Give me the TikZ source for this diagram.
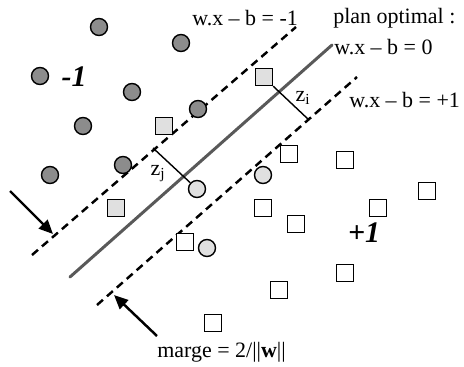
\documentclass[tikz,border=0pt]{standalone}
\usepackage{fontspec}
\setmainfont{Liberation Serif}
\usetikzlibrary{arrows.meta}
\tikzset{
  dark/.style={circle, draw, line width=0.8pt, fill=black!45, minimum size=0.34cm, inner sep=0pt},
  pale/.style={circle, draw, line width=0.8pt, fill=black!12, minimum size=0.34cm, inner sep=0pt},
  palebox/.style={rectangle, draw, line width=0.8pt, fill=black!12, minimum size=0.34cm, inner sep=0pt},
  whitebox/.style={rectangle, draw, line width=0.8pt, fill=white, minimum size=0.34cm, inner sep=0pt},
  margin/.style={line width=1.4pt, dash pattern=on 4.5pt off 3pt},
  pointer/.style={line width=1.4pt, -{Triangle[length=8pt,width=7pt]}},
  lbl/.style={font=\fontsize{12.5}{14}\selectfont, inner sep=0pt},
  classlbl/.style={inner sep=0pt, font=\fontsize{17}{19}\selectfont\bfseries\itshape}
}
\begin{document}
\begin{tikzpicture}[x=0.02cm, y=-0.02cm]
  \useasboundingbox (0,0) rectangle (464,366);

  % Margin lines and optimal plane
  \coordinate (u1) at (32,255); \coordinate (u2) at (296,27);
  \coordinate (l1) at (97,305); \coordinate (l2) at (357,77);
  \coordinate (h1) at (70,277); \coordinate (h2) at (332,45);
  \draw[line width=1.7pt, black!65, line cap=round] (h1) -- (h2);
  \draw[margin] (u1) -- (u2);
  \draw[margin] (l1) -- (l2);

  % Class -1 points
  \node[dark] (n1) at (99,27) {}; \node[dark] (n2) at (181,43) {};
  \node[dark] (n3) at (40,76) {}; \node[dark] (n4) at (132,92) {};
  \node[dark] (n5) at (83,126) {}; \node[dark] (n6) at (198,109) {};
  \node[dark] (n7) at (50,175) {}; \node[dark] (n8) at (123,165) {};

  % Misplaced points
  \node[palebox] (e1) at (164,126) {}; \node[palebox] (e2) at (264,77) {};
  \node[palebox] (e3) at (116,208) {};
  \node[pale] (f1) at (197,189) {}; \node[pale] (f2) at (263,175) {};
  \node[pale] (f3) at (207,248) {};

  % Class +1 points
  \node[whitebox] (p1) at (289,154) {}; \node[whitebox] (p2) at (345,160) {};
  \node[whitebox] (p3) at (263,208) {}; \node[whitebox] (p4) at (296,224) {};
  \node[whitebox] (p5) at (378,208) {}; \node[whitebox] (p6) at (427,191) {};
  \node[whitebox] (p7) at (185,242) {}; \node[whitebox] (p8) at (345,273) {};
  \node[whitebox] (p9) at (279,290) {}; \node[whitebox] (p10) at (213,323) {};

  % Slack distances
  \coordinate (zi) at (309,120); \coordinate (zj) at (153,148);
  \draw[line width=0.8pt] (e2.south east) -- (zi);
  \draw[line width=0.8pt] (zj) -- (f1);
  \node[lbl] (ti) at (303,98) {z\textsubscript{i}};
  \node[lbl] (tj) at (158,174) {z\textsubscript{j}};

  % Labels
  \node[lbl, anchor=west] (eqm) at (192,18) {w.x – b = -1};
  \node[lbl, anchor=west] (plan) at (333,18) {plan optimal :};
  \node[lbl, anchor=west] (eq0) at (334,47) {w.x – b = 0};
  \node[lbl, anchor=west] (eqp) at (349,100) {w.x – b = +1};
  \node[classlbl] (cm) at (74,77) {-1};
  \node[classlbl] (cp) at (364,233) {+1};
  \node[lbl, anchor=west] (marge) at (157,352) {marge = 2/||\textbf{w}||};

  % Margin arrows
  \coordinate (a1) at (10,191); \coordinate (b1) at (53,234);
  \coordinate (a2) at (157,336); \coordinate (b2) at (114,295);
  \draw[pointer] (a1) -- (b1);
  \draw[pointer] (a2) -- (b2);
\end{tikzpicture}
\end{document}
